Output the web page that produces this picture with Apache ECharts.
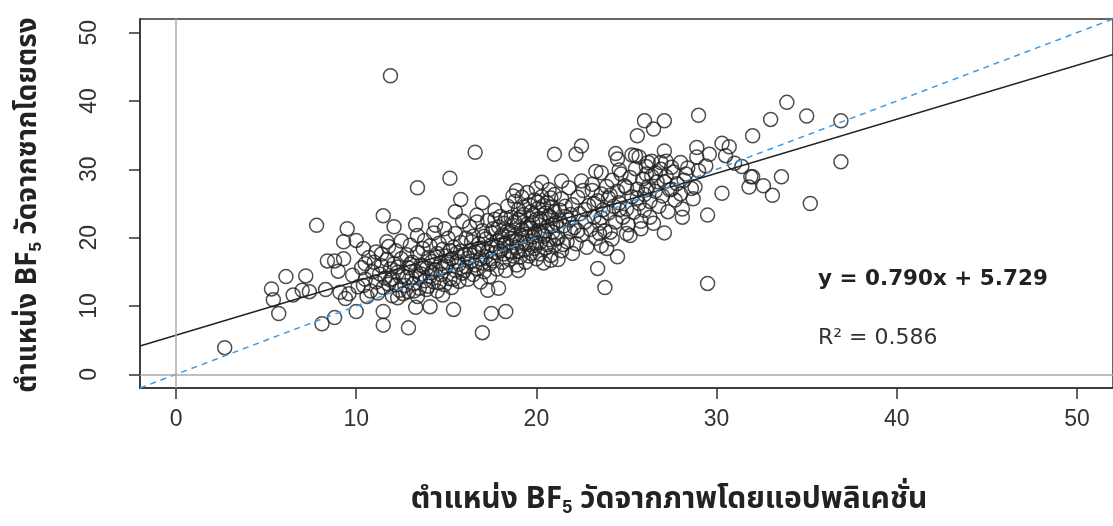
<!DOCTYPE html>
<html>
<head>
<meta charset="utf-8">
<script src="https://cdn.jsdelivr.net/npm/echarts@6/dist/echarts.min.js"></script>
<style>
  html, body { margin: 0; padding: 0; background: #fff; }
  #chart { width: 1113px; height: 526px; }
</style>
</head>
<body>
<div id="chart"></div>
<script>
// fitted line and labels
var slope = 0.790;
var intercept = 5.729;
var rSquared = 0.586;
var tickValues = [0, 10, 20, 30, 40, 50];

// scattered points away from the main cloud [app value, direct value]
var outerPoints = [
  [2.7, 3.9], [5.3, 12.5], [5.4, 10.9], [5.7, 8.9], [6.1, 14.3], [6.5, 11.6], [7.0, 12.3],
  [7.2, 14.4], [7.4, 12.1], [7.8, 21.8], [8.1, 7.4], [8.3, 12.4], [8.4, 16.6], [8.8, 16.6],
  [8.8, 8.3], [9.0, 15.1], [9.1, 12.0], [9.3, 19.4], [9.3, 16.9], [9.4, 11.1], [9.5, 21.3],
  [9.6, 11.8], [9.8, 14.5], [10.0, 9.2], [10.0, 19.6], [10.4, 18.4], [10.4, 13.0], [10.5, 16.2],
  [10.6, 11.4], [11.1, 17.9], [11.5, 23.2], [11.5, 9.2], [11.5, 7.2], [11.7, 19.4], [11.9, 43.7],
  [12.1, 21.6], [12.3, 11.2], [12.9, 6.8], [13.3, 9.8], [13.3, 21.9], [13.4, 27.3], [13.4, 11.4],
  [14.1, 9.9], [14.4, 21.8], [14.8, 11.6], [15.2, 28.7], [15.4, 9.5], [15.5, 23.8], [15.8, 25.6],
  [16.6, 32.5], [16.7, 22.3], [17.0, 25.1], [17.0, 6.1], [17.3, 12.3], [17.5, 8.9], [17.7, 22.7],
  [17.9, 12.6], [18.3, 9.2], [18.7, 26.1], [18.9, 26.9], [19.0, 15.2], [20.3, 28.1], [20.8, 16.7],
  [21.0, 32.2], [21.4, 28.3], [22.2, 32.2], [22.5, 33.4], [22.5, 28.3], [23.1, 26.9], [23.3, 29.7],
  [23.4, 15.5], [23.5, 20.6], [23.6, 29.5], [23.6, 18.8], [23.8, 12.7], [23.9, 18.4], [24.2, 19.8],
  [24.4, 32.3], [24.5, 31.5], [24.5, 17.2], [24.6, 29.9], [25.0, 20.6], [25.2, 20.3], [25.3, 32.1],
  [25.5, 32.0], [25.6, 34.9], [25.7, 31.8], [25.8, 21.3], [26.0, 37.1], [26.1, 29.3], [26.2, 31.0],
  [26.3, 23.0], [26.4, 31.2], [26.5, 35.9], [26.9, 31.0], [27.1, 37.1], [27.1, 32.7], [27.1, 20.7],
  [27.2, 31.2], [27.5, 27.1], [28.0, 31.0], [28.1, 24.2], [28.1, 23.0], [28.3, 29.3], [28.7, 25.7],
  [28.8, 27.4], [28.9, 33.2], [28.9, 31.8], [29.0, 37.9], [29.0, 29.8], [29.4, 30.5], [29.5, 23.3],
  [29.5, 13.3], [29.6, 32.2], [30.3, 33.8], [30.3, 26.5], [30.5, 32.0], [30.7, 33.3], [31.0, 30.9],
  [31.4, 30.4], [31.8, 27.4], [31.9, 28.9], [32.0, 34.9], [32.0, 28.9], [32.6, 27.6], [33.0, 37.3],
  [33.1, 26.2], [33.6, 28.9], [33.9, 39.8], [35.0, 37.8], [35.2, 25.0], [36.9, 37.1], [36.9, 31.1]
];

// the dense cloud in the middle
var clusterPoints = [
  [10.1, 12.8], [10.3, 15.6], [10.5, 13.9], [10.7, 17.1], [10.8, 12.2], [10.9, 15.0], [11.0, 16.4],
  [11.1, 13.5], [11.2, 11.9], [11.3, 14.7], [11.4, 17.6], [11.4, 15.9], [11.5, 12.7], [11.6, 14.1],
  [11.7, 16.8], [11.8, 13.2], [11.8, 18.7], [11.9, 15.4], [12.0, 11.5], [12.0, 14.0],
  [12.1, 16.2], [12.2, 13.1], [12.2, 18.1], [12.3, 14.9], [12.4, 12.3], [12.5, 16.9], [12.5, 19.5],
  [12.6, 14.4], [12.7, 13.0], [12.8, 17.5], [12.9, 15.6], [12.9, 12.1], [13.0, 18.9], [13.1, 14.1],
  [13.1, 16.4], [13.2, 13.3], [13.3, 15.1], [13.4, 20.3], [13.4, 17.8], [13.5, 12.6], [13.6, 16.0],
  [13.6, 14.7], [13.7, 18.4], [13.8, 13.7], [13.8, 19.6], [13.9, 15.5], [14.0, 17.1], [14.0, 12.9],
  [14.1, 14.3], [14.1, 18.8], [14.2, 16.5], [14.3, 13.5], [14.3, 20.7], [14.4, 15.3], [14.5, 17.7],
  [14.5, 12.2], [14.6, 19.2], [14.7, 14.6], [14.7, 16.2], [14.8, 18.3], [14.9, 13.1], [14.9, 21.3],
  [15.0, 15.8], [15.0, 17.3], [15.1, 19.9], [15.2, 14.0], [15.3, 16.9], [15.3, 12.7], [15.4, 18.6],
  [15.5, 15.2], [15.5, 20.6], [15.6, 17.8], [15.7, 13.6], [15.7, 16.1], [15.8, 19.3], [15.9, 14.8],
  [15.9, 22.4], [16.0, 17.5],
  [16.1, 15.7], [16.1, 19.9], [16.2, 13.9], [16.3, 18.1], [16.3, 21.6], [16.4, 16.6], [16.5, 14.6],
  [16.5, 20.2], [16.6, 17.9], [16.7, 15.5], [16.7, 23.3], [16.8, 19.1], [16.9, 16.9], [16.9, 13.5],
  [17.0, 21.0], [17.0, 18.5], [17.1, 15.0], [17.2, 19.8], [17.2, 17.2], [17.3, 22.5], [17.4, 16.1],
  [17.4, 14.3], [17.5, 20.7], [17.5, 18.9], [17.6, 16.6], [17.7, 24.0], [17.7, 17.8], [17.8, 19.5],
  [17.8, 15.4], [17.9, 21.6], [18.0, 18.1], [18.0, 23.1],
  [18.1, 16.4], [18.1, 20.4], [18.2, 22.1], [18.2, 17.6], [18.3, 19.2], [18.3, 15.2], [18.4, 24.6],
  [18.4, 21.0], [18.5, 18.0], [18.5, 16.8], [18.6, 23.0], [18.6, 19.9], [18.7, 21.8], [18.7, 17.3],
  [18.8, 25.3], [18.8, 20.3], [18.9, 18.6], [18.9, 16.0], [19.0, 22.6], [19.0, 24.1], [19.1, 19.4],
  [19.1, 17.2], [19.2, 21.2], [19.2, 25.9], [19.3, 18.2], [19.3, 23.4], [19.4, 20.5], [19.4, 16.4],
  [19.5, 22.0], [19.5, 26.6], [19.6, 19.0], [19.6, 24.8], [19.7, 17.7], [19.7, 21.4], [19.8, 23.3],
  [19.8, 20.1], [19.9, 25.5], [19.9, 18.4], [20.0, 22.7], [20.0, 16.9], [20.0, 27.2],
  [20.1, 21.0], [20.1, 24.3], [20.2, 19.3], [20.2, 17.6], [20.3, 22.4], [20.3, 26.0], [20.4, 20.2],
  [20.4, 16.3], [20.5, 23.6], [20.5, 18.5], [20.6, 25.1], [20.6, 21.6], [20.7, 19.7], [20.7, 27.0],
  [20.8, 22.9], [20.8, 17.4], [20.9, 24.5], [20.9, 20.8], [21.0, 18.9], [21.0, 26.3], [21.1, 22.2],
  [21.2, 16.8], [21.2, 20.0], [21.3, 24.0], [21.4, 25.7], [21.4, 18.1], [21.5, 21.7], [21.6, 23.1],
  [21.7, 19.4], [21.8, 27.3], [21.8, 22.6], [21.9, 20.9], [22.0, 24.8], [22.0, 17.7],
  [22.1, 21.5], [22.2, 19.1], [22.3, 25.9], [22.4, 23.5], [22.5, 20.4], [22.6, 26.9], [22.7, 22.3],
  [22.8, 18.6], [22.9, 24.7], [23.0, 21.2], [23.1, 27.8], [23.2, 23.0], [23.3, 19.9], [23.4, 25.4],
  [23.5, 22.1], [23.6, 26.4], [23.7, 24.1], [23.8, 21.0], [23.9, 27.5], [24.0, 23.6], [24.0, 25.8],
  [24.1, 20.8], [24.2, 28.4], [24.3, 24.6], [24.4, 22.3], [24.5, 26.8], [24.6, 25.1], [24.7, 29.3],
  [24.8, 23.0], [24.9, 27.6], [25.0, 24.2], [25.1, 21.9], [25.2, 28.8], [25.3, 26.0], [25.4, 23.7],
  [25.5, 30.1], [25.6, 27.1], [25.7, 25.0], [25.8, 22.4], [25.9, 28.6], [26.0, 26.3], [26.0, 24.0],
  [26.1, 30.4], [26.2, 27.5], [26.3, 25.3], [26.4, 29.0], [26.5, 22.1], [26.6, 26.8], [26.7, 28.2],
  [26.8, 24.6], [26.9, 30.0], [27.0, 26.1], [27.2, 28.9], [27.3, 23.8], [27.4, 27.0], [27.6, 29.6],
  [27.7, 25.5], [27.8, 27.9], [28.0, 26.4], [28.2, 28.4], [28.4, 30.2], [28.6, 27.2]
];

// extra overlapping points in the darkest part of the cloud
var densePoints = [
  [11.9, 13.8], [12.3, 15.7], [12.6, 11.8], [12.8, 14.2], [13.0, 16.1], [13.2, 12.2], [13.5, 14.4],
  [13.7, 15.8], [13.9, 12.4], [14.2, 14.9], [14.4, 17.2], [14.6, 13.4], [14.8, 15.6], [15.1, 16.4],
  [15.2, 18.1], [15.4, 13.9], [15.6, 16.5], [15.8, 18.0], [16.0, 15.2], [16.2, 17.0], [16.4, 19.4],
  [16.6, 16.0], [16.8, 18.4], [17.0, 16.3], [17.1, 20.2], [17.3, 18.0], [17.5, 16.9], [17.6, 21.3],
  [17.8, 18.6], [18.0, 20.0], [18.2, 18.9], [18.3, 22.8], [18.5, 20.7], [18.6, 17.9], [18.8, 22.3],
  [18.9, 19.6], [19.0, 18.0], [19.1, 23.0], [19.2, 20.3], [19.3, 24.5], [19.4, 19.2], [19.5, 21.4],
  [19.6, 17.3], [19.7, 23.8], [19.8, 22.2], [19.9, 20.7], [20.0, 19.2], [20.1, 25.2], [20.2, 22.8],
  [20.3, 20.6], [20.4, 24.7], [20.5, 21.0], [20.6, 19.0], [20.7, 23.2], [20.8, 25.8], [20.9, 21.9],
  [21.0, 23.8], [21.1, 19.8], [21.3, 22.5], [21.5, 19.0], [21.6, 24.6], [21.9, 23.4], [22.3, 21.0],
  [22.7, 24.1], [23.2, 25.0], [23.6, 22.9], [24.1, 26.2], [24.6, 24.1], [25.0, 27.3], [25.6, 25.8],
  [26.1, 27.0], [26.6, 29.5], [27.1, 28.2], [27.5, 30.3]
];

var xMin = -2, xMax = 52;
var thaiFont = 'Tahoma, "Noto Sans Thai", "Noto Sans", "DejaVu Sans", sans-serif';

var chart = echarts.init(document.getElementById('chart'));

var option = {
  animation: false,
  grid: { left: 140, top: 19, width: 977, height: 369, show: true, borderColor: '#333', borderWidth: 1.5 },
  xAxis: {
    type: 'value', min: xMin, max: xMax,
    axisLine: { onZero: false, lineStyle: { color: '#333', width: 1.5 } },
    axisTick: { show: true, length: 11, lineStyle: { color: '#333', width: 1.5 }, customValues: tickValues },
    axisLabel: { customValues: tickValues, margin: 20, fontSize: 23, color: '#333', fontFamily: 'Liberation Sans, Arial, sans-serif' },
    splitLine: { show: false }
  },
  yAxis: {
    type: 'value', min: xMin, max: xMax,
    axisLine: { onZero: false, lineStyle: { color: '#333', width: 1.5 } },
    axisTick: { show: true, length: 11, lineStyle: { color: '#333', width: 1.5 }, customValues: tickValues },
    axisLabel: { customValues: tickValues, rotate: 90, margin: 39, fontSize: 23, color: '#333', fontFamily: 'Liberation Sans, Arial, sans-serif' },
    splitLine: { show: false }
  },
  graphic: [
    {
      type: 'text', x: 669, y: 502,
      style: {
        text: 'ตำแหน่ง BF{sub|5} วัดจากภาพโดยแอปพลิเคชั่น',
        align: 'center', verticalAlign: 'middle', fill: '#222', font: 'bold 30px ' + thaiFont,
        rich: { sub: { fontSize: 18, fontWeight: 'bold', padding: [12, 0, 0, 0], fill: '#222' } }
      }
    },
    {
      type: 'text', x: 30, y: 205, rotation: Math.PI / 2,
      style: {
        text: 'ตำแหน่ง BF{sub|5} วัดจากซากโดยตรง',
        align: 'center', verticalAlign: 'middle', fill: '#222', font: 'bold 28px ' + thaiFont,
        rich: { sub: { fontSize: 17, fontWeight: 'bold', padding: [12, 0, 0, 0], fill: '#222' } }
      }
    },
    {
      type: 'text', x: 818, y: 279,
      style: { text: 'y = ' + slope.toFixed(3) + 'x + ' + intercept.toFixed(3), verticalAlign: 'middle', fill: '#222', font: 'bold 21.5px "DejaVu Sans", sans-serif' }
    },
    {
      type: 'text', x: 818, y: 338,
      style: { text: 'R² = ' + rSquared.toFixed(3), verticalAlign: 'middle', fill: '#333', font: '22px "DejaVu Sans", sans-serif' }
    }
  ],
  series: [
    {
      type: 'scatter',
      data: outerPoints.concat(clusterPoints, densePoints),
      symbol: 'circle', symbolSize: 14,
      itemStyle: { color: 'rgba(0,0,0,0)', borderColor: '#222', borderWidth: 1.5 },
      markLine: {
        silent: true, symbol: 'none', label: { show: false },
        lineStyle: { color: '#aaa', width: 1.5, type: 'solid' },
        data: [{ xAxis: 0 }, { yAxis: 0 }]
      },
      z: 2
    },
    {
      type: 'line', showSymbol: false, silent: true, z: 3,
      data: [[xMin, intercept + slope * xMin], [xMax, intercept + slope * xMax]],
      lineStyle: { color: '#222', width: 1.5 }
    },
    {
      type: 'line', showSymbol: false, silent: true, z: 4,
      data: [[xMin, xMin], [xMax, xMax]],
      lineStyle: { color: '#3d9be6', width: 1.5, type: [6, 5] }
    }
  ]
};

chart.setOption(option);
</script>
</body>
</html>
